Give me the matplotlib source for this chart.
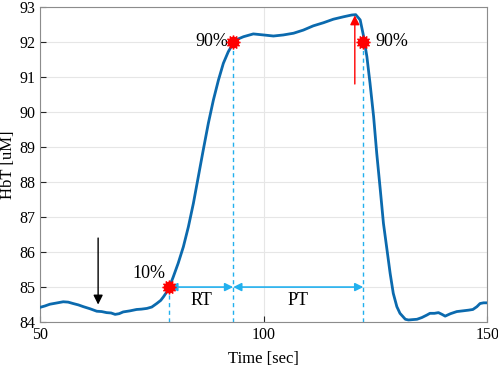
import matplotlib
matplotlib.use("Agg")
import matplotlib.pyplot as plt

# HbT trace
time_s = [50, 51.1, 52.2, 53.5, 55.2, 56.3, 57.4, 58.6, 59.7, 61.2, 62.7, 63.8, 64.9, 65.9,
          66.8, 67.7, 68.6, 70.1, 71.6, 72.7, 73.9, 75.0, 76.1, 77.0, 77.6, 78.3,
          78.93, 79.8, 80.9, 82.06, 83.18, 84.3, 85.4, 86.5, 87.65, 88.77, 89.9, 91.0,
          92.1, 93.1, 94.2, 95.5, 97.7, 100.0, 102.2, 104.4, 106.7, 108.9, 111.1,
          113.4, 115.6, 117.9, 119.7, 120.6, 121.6, 122.3, 123.1, 123.8, 124.6, 125.3,
          126.1, 126.8, 127.6, 128.3, 129.0, 129.8, 130.5, 131.7, 132.4, 133.3, 134.3,
          135.4, 136.5, 137.2, 138.2, 139.1, 139.9, 140.6, 141.8, 143.2, 144.5, 145.8,
          146.8, 147.7, 148.4, 149.2, 150]
hbt = [84.42, 84.46, 84.51, 84.54, 84.58, 84.57, 84.53, 84.49, 84.44, 84.38, 84.31, 84.30, 84.27, 84.26,
       84.22, 84.24, 84.29, 84.32, 84.36, 84.37, 84.39, 84.43, 84.53, 84.62, 84.72, 84.85,
       85.0, 85.29, 85.68, 86.15, 86.72, 87.39, 88.15, 88.91, 89.68, 90.34, 90.91, 91.39,
       91.72, 91.94, 92.08, 92.15, 92.23, 92.2, 92.17, 92.2, 92.25, 92.34, 92.46,
       92.55, 92.65, 92.72, 92.77, 92.78, 92.63, 92.2, 91.58, 90.82, 89.87, 88.82,
       87.77, 86.82, 86.06, 85.39, 84.82, 84.44, 84.25, 84.08, 84.06, 84.07, 84.08,
       84.13, 84.2, 84.25, 84.25, 84.27, 84.22, 84.17, 84.24, 84.3, 84.32, 84.34,
       84.36, 84.44, 84.53, 84.55, 84.55]

# 10% / 90% points
t10, t90_rise, t90_fall = 78.9, 93.2, 122.3
y10, y90 = 85.0, 92.0
stim_on, stim_off = 63.0, 120.4

xticks = [50, 100, 150]
yticks = list(range(84, 94))

plt.rcParams['font.family'] = ['Liberation Serif', 'DejaVu Serif']
plt.rcParams['font.size'] = 11

fig = plt.figure(figsize=(4.98, 3.66), dpi=100)
ax = fig.add_axes([0.0803, 0.120, 0.898, 0.861])

cyan = '#22B0EE'
ax.plot(time_s, hbt, color='#0B6AAE', lw=2, zorder=3)

# dashed guides
for t, top in [(t10, y10), (t90_rise, y90), (t90_fall, y90)]:
    ax.plot([t, t], [84, top], ls=(0, (3, 2.5)), color=cyan, lw=1, zorder=2)

# RT / PT arrows
arrow_kw = dict(arrowstyle='<|-|>', color=cyan, lw=1.2, mutation_scale=12, shrinkA=0, shrinkB=0)
ax.annotate('', xy=(t90_rise, y10), xytext=(t10, y10), arrowprops=arrow_kw)
ax.annotate('', xy=(t90_fall, y10), xytext=(t90_rise, y10), arrowprops=arrow_kw)
ax.text((t10 + t90_rise) / 2, 84.62, 'RT', ha='center', va='center', fontsize=13)
ax.text((t90_rise + t90_fall) / 2, 84.62, 'PT', ha='center', va='center', fontsize=13)

# markers
ax.plot([t10, t90_rise, t90_fall], [y10, y90, y90], ls='none', marker=(12, 1, 0),
        ms=10, color='red', zorder=5)
ax.plot([t10, t90_rise, t90_fall], [y10, y90, y90], ls='none', marker='o',
        ms=7, color='red', zorder=5)
ax.text(t10 - 0.8, 85.15, '10%', ha='right', va='bottom', fontsize=13)
ax.text(t90_rise - 1.2, y90, '90%', ha='right', va='center', fontsize=13)
ax.text(t90_fall + 2.8, y90, '90%', ha='left', va='center', fontsize=13)

# stimulus arrows
ax.annotate('', xy=(stim_on, 84.5), xytext=(stim_on, 86.4),
            arrowprops=dict(arrowstyle='-|>', color='black', lw=1, mutation_scale=14,
                            shrinkA=0, shrinkB=0))
ax.annotate('', xy=(stim_off, 92.76), xytext=(stim_off, 90.8),
            arrowprops=dict(arrowstyle='-|>', color='red', lw=1, mutation_scale=14,
                            shrinkA=0, shrinkB=0))

ax.set_xlim(50, 150)
ax.set_ylim(84, 93)
ax.set_xticks(xticks)
ax.set_yticks(yticks)
ax.tick_params(direction='in', length=4, color='#262626', labelsize=11.5)
ax.grid(True, color='#e6e6e6', lw=0.8)
ax.set_axisbelow(True)
for s in ax.spines.values():
    s.set_color('#8c8c8c')
    s.set_linewidth(0.8)
ax.set_xlabel('Time [sec]', fontsize=12, labelpad=6)
ax.set_ylabel('HbT [uM]', fontsize=12, labelpad=2)

fig.savefig('out.png', dpi=100)
